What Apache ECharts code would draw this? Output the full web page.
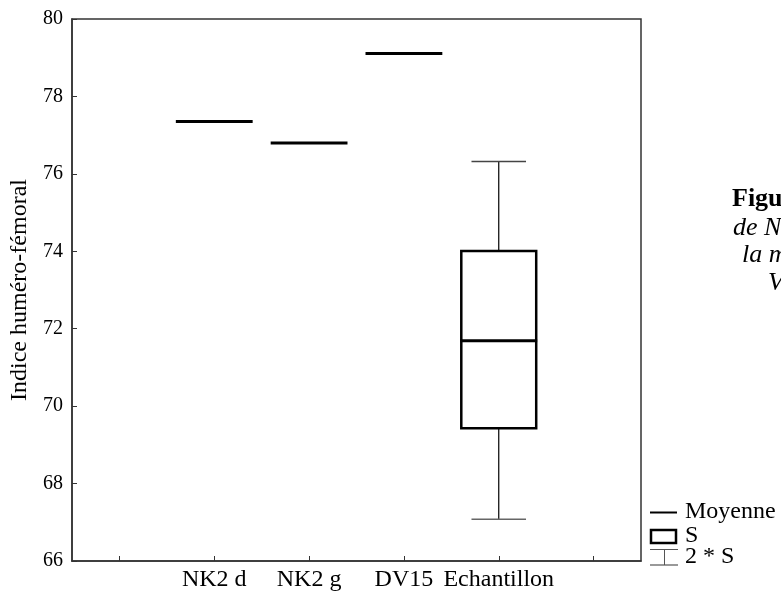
<!DOCTYPE html>
<html>
<head>
<meta charset="utf-8">
<script src="https://cdn.jsdelivr.net/npm/echarts@6/dist/echarts.min.js"></script>
<style>html,body{margin:0;padding:0;background:#fff;}#c{width:781px;height:595px;}</style>
</head>
<body>
<div id="c"></div>
<script>
var categories = ['', 'NK2 d', 'NK2 g', 'DV15', 'Echantillon', ''];
var meanValues = [null, 77.35, 76.80, 79.11, 71.69, null];
var sLow = [null, null, null, null, 69.43, null];
var sHigh = [null, null, null, null, 74.01, null];
var twoSLow = [null, null, null, null, 67.08, null];
var twoSHigh = [null, null, null, null, 76.32, null];
var yTicks = {min: 66, max: 80, interval: 2};

var FONT = '"Liberation Serif", "Times New Roman", serif';

var seriesData = [];
categories.forEach(function (c, i) {
  if (meanValues[i] == null) return;
  var hasBox = sLow[i] != null ? 1 : 0;
  seriesData.push([i, meanValues[i], hasBox ? sLow[i] : 0, hasBox ? sHigh[i] : 0,
    hasBox ? twoSLow[i] : 0, hasBox ? twoSHigh[i] : 0, hasBox]);
});

function renderItem(params, api) {
  var idx = api.value(0);
  var band = api.size([1, 0])[0];
  var pm = api.coord([idx, api.value(1)]);
  var cx = pm[0];
  var children = [];
  if (api.value(6) === 1) {
    var bLo = api.coord([idx, api.value(2)])[1];
    var bHi = api.coord([idx, api.value(3)])[1];
    var wLo = api.coord([idx, api.value(4)])[1];
    var wHi = api.coord([idx, api.value(5)])[1];
    var bw = band * 0.79;
    var cw = band * 0.575;
    children.push({type: 'line', shape: {x1: cx, y1: wHi, x2: cx, y2: bHi}, style: {stroke: '#000', lineWidth: 1.2}});
    children.push({type: 'line', shape: {x1: cx, y1: bLo, x2: cx, y2: wLo}, style: {stroke: '#000', lineWidth: 1.2}});
    children.push({type: 'line', shape: {x1: cx - cw / 2, y1: wHi, x2: cx + cw / 2, y2: wHi}, style: {stroke: '#444', lineWidth: 1.5}});
    children.push({type: 'line', shape: {x1: cx - cw / 2, y1: wLo, x2: cx + cw / 2, y2: wLo}, style: {stroke: '#666', lineWidth: 1.5}});
    children.push({type: 'rect', shape: {x: cx - bw / 2, y: bHi, width: bw, height: bLo - bHi}, style: {fill: '#fff', stroke: '#000', lineWidth: 2.5}});
  }
  var mw = band * 0.81;
  children.push({type: 'line', shape: {x1: cx - mw / 2, y1: pm[1], x2: cx + mw / 2, y2: pm[1]}, style: {stroke: '#000', lineWidth: 3}});
  return {type: 'group', children: children};
}

var chart = echarts.init(document.getElementById('c'), null, {renderer: 'canvas'});
chart.setOption({
  backgroundColor: '#fff',
  animation: false,
  grid: {left: 72, right: 140, top: 19, bottom: 34, show: true, borderColor: '#333', borderWidth: 1.5, containLabel: false},
  xAxis: {
    type: 'category',
    data: categories,
    boundaryGap: true,
    axisLine: {show: true, lineStyle: {color: '#333', width: 1.5}},
    axisTick: {show: true, inside: true, alignWithLabel: true, length: 5, lineStyle: {color: '#333'}},
    axisLabel: {color: '#000', fontFamily: FONT, fontSize: 24, margin: 7, interval: 0},
    splitLine: {show: false}
  },
  yAxis: {
    type: 'value',
    min: yTicks.min, max: yTicks.max, interval: yTicks.interval,
    name: 'Indice huméro-fémoral',
    nameLocation: 'middle',
    nameGap: 38,
    nameTextStyle: {color: '#000', fontFamily: FONT, fontSize: 24},
    axisLine: {show: true, lineStyle: {color: '#333', width: 1.5}},
    axisTick: {show: true, inside: true, length: 5, lineStyle: {color: '#333'}},
    axisLabel: {color: '#000', fontFamily: FONT, fontSize: 20, margin: 9},
    splitLine: {show: false}
  },
  series: [{
    type: 'custom',
    renderItem: renderItem,
    data: seriesData,
    encode: {x: 0, y: 1},
    clip: false
  }],
  graphic: [
    {type: 'line', shape: {x1: 650, y1: 512.5, x2: 677, y2: 512.5}, style: {stroke: '#000', lineWidth: 2}},
    {type: 'text', style: {x: 685, y: 512, text: 'Moyenne', font: '24px ' + FONT, fill: '#000', verticalAlign: 'middle'}},
    {type: 'rect', shape: {x: 651, y: 530, width: 25, height: 13}, style: {fill: '#fff', stroke: '#000', lineWidth: 2.5}},
    {type: 'text', style: {x: 685, y: 536, text: 'S', font: '24px ' + FONT, fill: '#000', verticalAlign: 'middle'}},
    {type: 'line', shape: {x1: 650, y1: 549.5, x2: 678, y2: 549.5}, style: {stroke: '#555', lineWidth: 1}},
    {type: 'line', shape: {x1: 664.5, y1: 549.5, x2: 664.5, y2: 565}, style: {stroke: '#555', lineWidth: 1}},
    {type: 'line', shape: {x1: 650, y1: 565, x2: 678, y2: 565}, style: {stroke: '#555', lineWidth: 1.2}},
    {type: 'text', style: {x: 685, y: 557, text: '2 * S', font: '24px ' + FONT, fill: '#000', verticalAlign: 'middle'}},
    {type: 'text', style: {x: 732, y: 186, text: 'Figu', font: 'bold 26px ' + FONT, fill: '#000', verticalAlign: 'top'}},
    {type: 'text', style: {x: 733, y: 215, text: 'de N', font: 'italic 26px ' + FONT, fill: '#000', verticalAlign: 'top'}},
    {type: 'text', style: {x: 742, y: 242, text: 'la m', font: 'italic 26px ' + FONT, fill: '#000', verticalAlign: 'top'}},
    {type: 'text', style: {x: 768, y: 270, text: 'V', font: 'italic 26px ' + FONT, fill: '#000', verticalAlign: 'top'}}
  ]
});
</script>
</body>
</html>
